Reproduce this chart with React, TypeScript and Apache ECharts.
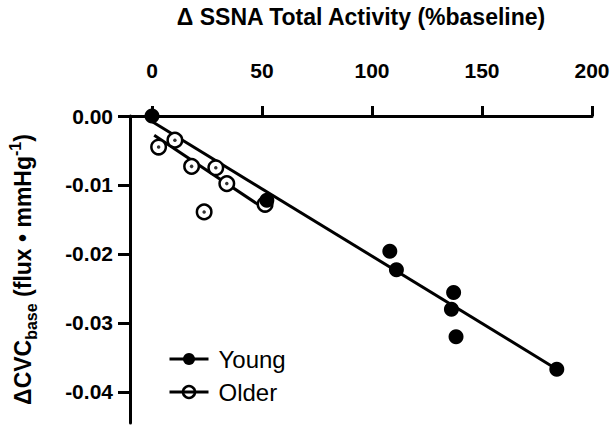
import React, { useEffect, useRef } from "react";
import * as echarts from "echarts";

const FONT = "'Liberation Sans', Arial, sans-serif";

const xTicks = [0, 50, 100, 150, 200];
const yTicks = [0, -0.01, -0.02, -0.03, -0.04];

// Young: filled circles
const youngX = [0, 52.2, 108.1, 111.1, 137.1, 136.1, 138.2, 184];
const youngY = [0, -0.0122, -0.0196, -0.0223, -0.0256, -0.028, -0.032, -0.0367];

// Older: open circles with a dot
const olderX = [3.0, 10.4, 18.0, 29.0, 34.0, 23.7, 51.4];
const olderY = [-0.0045, -0.0035, -0.0073, -0.0075, -0.0098, -0.0139, -0.0128];

// Regression line endpoints
const youngFitX = [0, 184];
const youngFitY = [-0.0008, -0.0367];
const olderFitX = [1, 51.4];
const olderFitY = [-0.0028, -0.0135];

const zip = (xs: number[], ys: number[]) => xs.map((x, i) => [x, ys[i]]);

export default function App() {
  const ref = useRef<HTMLDivElement>(null);
  useEffect(() => {
    const chart = echarts.init(ref.current!, null, { renderer: "svg" });
    const axisLineStyle = { color: "#000", width: 3 };
    chart.setOption({
      animation: false,
      backgroundColor: "#fff",
      grid: { left: 130, right: 22, top: 116, bottom: 5, outerBoundsMode: "none", containLabel: false },
      xAxis: {
        type: "value",
        position: "top",
        min: -10,
        max: 200,
        name: "Δ SSNA Total Activity (%baseline)",
        nameLocation: "middle",
        nameGap: 88,
        nameTextStyle: { fontSize: 23, fontWeight: "bold", fontFamily: FONT, color: "#000" },
        axisLine: { onZero: false, lineStyle: axisLineStyle },
        axisTick: { customValues: xTicks, length: 10, lineStyle: axisLineStyle },
        axisLabel: {
          customValues: xTicks,
          margin: 35,
          fontSize: 21,
          fontWeight: "bold",
          fontFamily: FONT,
          color: "#000",
        },
        splitLine: { show: false },
      },
      yAxis: {
        type: "value",
        min: -0.0445,
        max: 0,
        name: "{m|ΔCVC}{sub|base}{m| (flux • mmHg}{sup|-1}{m|)}",
        nameLocation: "middle",
        nameGap: 91,
        nameTextStyle: {
          rich: {
            m: { fontSize: 23, fontWeight: "bold", fontFamily: FONT, color: "#000", lineHeight: 32, verticalAlign: "middle" },
            sub: { fontSize: 16, fontWeight: "bold", fontFamily: FONT, color: "#000", lineHeight: 16, verticalAlign: "bottom" },
            sup: { fontSize: 16, fontWeight: "bold", fontFamily: FONT, color: "#000", lineHeight: 16, verticalAlign: "top" },
          },
        },
        axisLine: { onZero: false, lineStyle: axisLineStyle },
        axisTick: { customValues: yTicks, length: 12, lineStyle: axisLineStyle },
        axisLabel: {
          customValues: yTicks,
          margin: 17,
          fontSize: 21,
          fontWeight: "bold",
          fontFamily: FONT,
          color: "#000",
          formatter: (v: number) => v.toFixed(2),
        },
        splitLine: { show: false },
      },
      legend: {
        orient: "vertical",
        left: 163,
        top: 342,
        itemWidth: 39,
        itemHeight: 15,
        itemGap: 9,
        textStyle: { fontSize: 24, fontFamily: FONT, color: "#000", padding: [0, 0, 0, 5] },
        lineStyle: { color: "#000", width: 3, opacity: 1 },
        data: [
          { name: "Young" },
          { name: "Older", itemStyle: { color: "transparent", borderColor: "#000", borderWidth: 2.5 } },
        ],
      },
      series: [
        {
          type: "line",
          data: zip(youngFitX, youngFitY),
          symbol: "none",
          lineStyle: { color: "#000", width: 3 },
          silent: true,
          z: 1,
        },
        {
          type: "line",
          data: zip(olderFitX, olderFitY),
          symbol: "none",
          lineStyle: { color: "#000", width: 3 },
          silent: true,
          z: 1,
        },
        {
          name: "Older",
          type: "line",
          data: zip(olderX, olderY),
          symbol: "circle",
          symbolSize: 14.5,
          showSymbol: true,
          clip: false,
          lineStyle: { width: 0, opacity: 0 },
          itemStyle: { color: "#fff", borderColor: "#000", borderWidth: 2.5 },
          z: 3,
        },
        {
          type: "scatter",
          data: zip(olderX, olderY),
          symbol: "circle",
          symbolSize: 3.5,
          itemStyle: { color: "#000" },
          silent: true,
          z: 4,
        },
        {
          name: "Young",
          type: "line",
          data: zip(youngX, youngY),
          symbol: "circle",
          symbolSize: 15,
          showSymbol: true,
          clip: false,
          lineStyle: { width: 0, opacity: 0 },
          itemStyle: { color: "#000" },
          z: 5,
        },
      ],
    });
    return () => chart.dispose();
  }, []);
  return (
    <div
      ref={ref}
      style={{ position: "absolute", left: 0, top: 0, width: 614, height: 428, background: "#fff" }}
    />
  );
}
